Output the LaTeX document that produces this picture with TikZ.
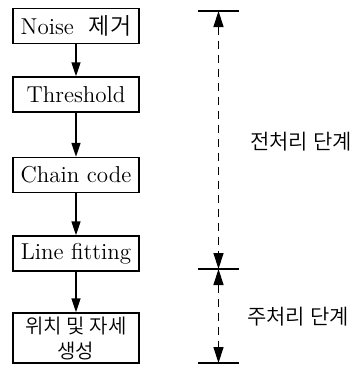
\documentclass[tikz,border=0pt]{standalone}
\usepackage{fontspec}
\newfontfamily\kr{Noto Sans CJK KR}[UprightFont={* DemiLight}]
\usetikzlibrary{arrows.meta,positioning}

\begin{document}
\begin{tikzpicture}[x=0.5pt, y=-0.5pt,
    box/.style={rectangle, draw, line width=0.7pt, minimum width=63pt, minimum height=17.5pt, align=center, inner sep=1pt, font=\fontsize{11.5}{12.5}\selectfont},
    arrow/.style={-{Triangle[length=7pt, width=4.5pt]}, line width=0.7pt},
    dim/.style={{Triangle[length=8pt, width=5pt]}-{Triangle[length=8pt, width=5pt]}, line width=0.7pt, dash pattern=on 4pt off 3pt},
    stage/.style={font=\kr\fontsize{10.5}{12}\selectfont}
]
    \useasboundingbox (0,0) rectangle (359,365);

    % flow of the steps
    \node[box] (noise) at (76,26) {Noise\ \ {\kr 제거}};
    \node[box] (thresh) at (76,94.5) {Threshold};
    \node[box] (chain) at (76,175) {Chain code};
    \node[box] (fit) at (76,253.5) {Line fitting};
    \node[box, minimum height=25pt, font=\kr\fontsize{10}{12.5}\selectfont] (pose) at (76,338) {위치\ 및\ 자세\\생성};

    \draw[arrow] (noise) -- (thresh);
    \draw[arrow] (thresh) -- (chain);
    \draw[arrow] (chain) -- (fit);
    \draw[arrow] (fit) -- (pose);

    % stage marks
    \coordinate (top) at (218.5,11);
    \coordinate (mid) at (218.5,269);
    \coordinate (bot) at (218.5,363);

    \draw[line width=0.7pt] ([xshift=-10.25pt]top) -- ([xshift=10.25pt]top);
    \draw[line width=0.7pt] ([xshift=-10.25pt]mid) -- ([xshift=10.25pt]mid);
    \draw[line width=0.7pt] ([xshift=-10.25pt]bot) -- ([xshift=10.25pt]bot);

    \draw[dim] (top) -- (mid);
    \draw[dim] (mid) -- (bot);

    \node[stage] (pre) at (301,142) {전처리\ 단계};
    \node[stage] (main) at (298,317) {주처리\ 단계};
\end{tikzpicture}
\end{document}
